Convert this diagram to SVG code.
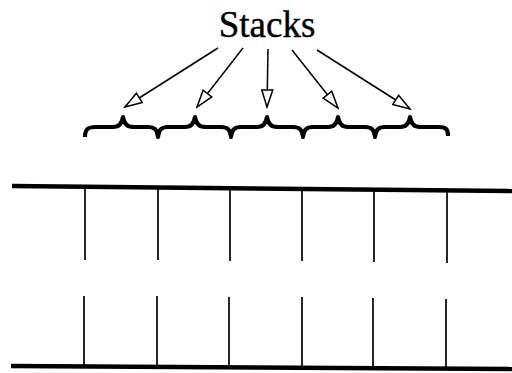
<svg xmlns="http://www.w3.org/2000/svg" width="512" height="373" viewBox="0 0 512 373">
<style>
.lbl{font-family:"Liberation Serif","Times New Roman",serif;font-size:37px;fill:#000;stroke:#000;stroke-width:0.4}
.rail{stroke:#000;stroke-width:4.5;fill:none}
.post{stroke:#000;stroke-width:1.7;fill:none}
.brace{stroke:#000;stroke-width:4.2;fill:none;stroke-linejoin:round}
.arr{stroke:#000;stroke-width:1.5;fill:none;marker-end:url(#open)}
</style>
<defs>
<marker id="open" markerUnits="userSpaceOnUse" markerWidth="20" markerHeight="14" viewBox="0 0 20 14" refX="18" refY="7" orient="auto">
<path d="M1,1.5 L18,7 L1,12.5 Z" fill="#fff" stroke="#000" stroke-width="1.5"/>
</marker>
</defs>
<rect width="512" height="373" fill="#fff"/>
<g id="label">
<text class="lbl" x="267" y="37" text-anchor="middle">Stacks</text>
</g>
<g id="braces">
<path class="brace" d="M85,137 C85,129 88,127 96,127 L113,127 C119,127 122,124 123,117 C124,124 127,127 133,127 L148,127 C154,127 157,129 158,137 C159,129 162,127 168,127 L185,127 C191,127 194,124 195,117 C196,124 199,127 205,127 L221,127 C227,127 230,129 231,137 C232,129 235,127 241,127 L257,127 C263,127 266,124 267,117 C268,124 271,127 277,127 L293,127 C299,127 302,129 303,137 C304,129 307,127 313,127 L328,127 C334,127 337,124 338,117 C339,124 342,127 348,127 L365,127 C371,127 374,129 375,137 C376,129 379,127 385,127 L400,127 C406,127 409,124 410,117 C411,124 414,127 420,127 L438,127 C446,127 448,129 448,136"/>
</g>
<g id="top-rail">
<line class="rail" x1="12" y1="186" x2="512" y2="191"/>
<line class="post" x1="85" y1="188" x2="85" y2="260"/>
<line class="post" x1="158" y1="189" x2="158" y2="260"/>
<line class="post" x1="230" y1="189" x2="230" y2="261"/>
<line class="post" x1="302" y1="190" x2="302" y2="261"/>
<line class="post" x1="374" y1="190" x2="374" y2="262"/>
<line class="post" x1="447" y1="191" x2="447" y2="263"/>
</g>
<g id="bottom-rail">
<line class="rail" x1="11" y1="366" x2="512" y2="369"/>
<line class="post" x1="84" y1="296" x2="84" y2="366"/>
<line class="post" x1="157" y1="296" x2="157" y2="367"/>
<line class="post" x1="229" y1="297" x2="229" y2="367"/>
<line class="post" x1="302" y1="297" x2="302" y2="368"/>
<line class="post" x1="373" y1="298" x2="373" y2="368"/>
<line class="post" x1="446" y1="299" x2="446" y2="368"/>
</g>
<g id="connectors">
<line class="arr" x1="218" y1="48" x2="125" y2="107"/>
<line class="arr" x1="243" y1="48" x2="197" y2="107"/>
<line class="arr" x1="268" y1="49" x2="267" y2="107"/>
<line class="arr" x1="292" y1="50" x2="338" y2="108"/>
<line class="arr" x1="317" y1="50" x2="410" y2="109"/>
</g>
</svg>
